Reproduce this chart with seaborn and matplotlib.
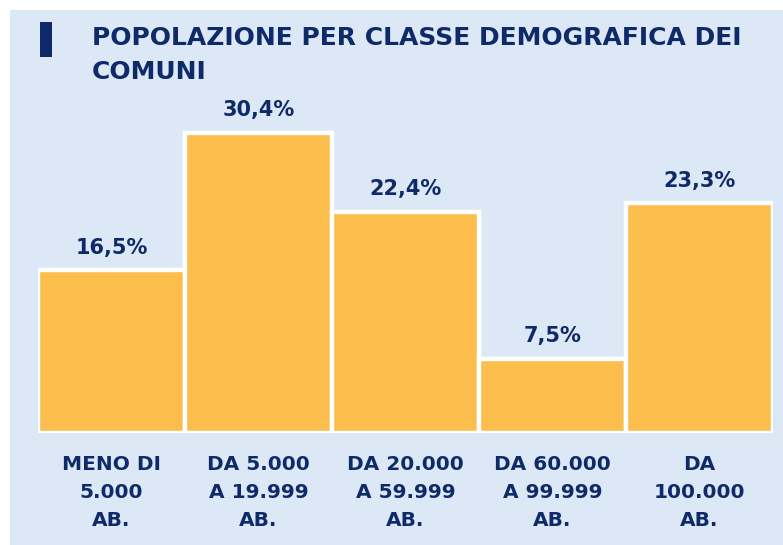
import matplotlib
matplotlib.use("Agg")
import matplotlib.pyplot as plt
import seaborn as sns
import pandas as pd
from matplotlib.patches import Rectangle

# Dati
classi = ["MENO DI\n5.000\nAB.", "DA 5.000\nA 19.999\nAB.", "DA 20.000\nA 59.999\nAB.",
          "DA 60.000\nA 99.999\nAB.", "DA\n100.000\nAB."]
quote = [16.5, 30.4, 22.4, 7.5, 23.3]
etichette = ["16,5%", "30,4%", "22,4%", "7,5%", "23,3%"]

NAVY = "#0f2a68"
SFONDO = "#dde8f6"
GIALLO = "#fbbd4c"

sns.set_theme(style="white")
plt.rcParams['font.family'] = ['DejaVu Sans']

df = pd.DataFrame({'classe': classi, 'quota': quote})

fig = plt.figure(figsize=(7.83, 5.45), dpi=100, facecolor="white")
# pannello azzurro
fig.patches.append(Rectangle((10 / 783, 0), 1, 1 - 10 / 545, transform=fig.transFigure,
                             facecolor=SFONDO, edgecolor="none", zorder=-2))
# marcatore del titolo
fig.patches.append(Rectangle((40 / 783, 1 - 57 / 545), 12 / 783, 35 / 545, transform=fig.transFigure,
                             facecolor=NAVY, edgecolor="none", zorder=-1))

ax = fig.add_axes([38 / 783, 1 - 433 / 545, 735 / 783, 335.6 / 545])
ax.set_facecolor("none")
ax.set_zorder(1)

sns.barplot(data=df, x='classe', y='quota', color=GIALLO, width=1.0, saturation=1,
            edgecolor="white", linewidth=3.2, ax=ax)

ax.bar_label(ax.containers[0], labels=etichette, padding=9, fontsize=15,
             fontweight="bold", color=NAVY)

ax.set_xlim(-0.5, len(classi) - 0.5)
ax.set_ylim(0, 34)
ax.set_yticks([])
ax.set_xlabel("")
ax.set_ylabel("")
for s in ax.spines.values():
    s.set_visible(False)
ax.tick_params(axis='x', length=0, pad=16)
for t in ax.get_xticklabels():
    t.set_fontsize(14.5)
    t.set_fontweight("bold")
    t.set_color(NAVY)
    t.set_linespacing(1.6)

fig.text(92 / 783, 1 - 26 / 545, "POPOLAZIONE PER CLASSE DEMOGRAFICA DEI\nCOMUNI",
         ha="left", va="top", fontsize=18, fontweight="bold", color=NAVY, linespacing=1.55)

fig.savefig("out.png", dpi=100, facecolor=fig.get_facecolor())
